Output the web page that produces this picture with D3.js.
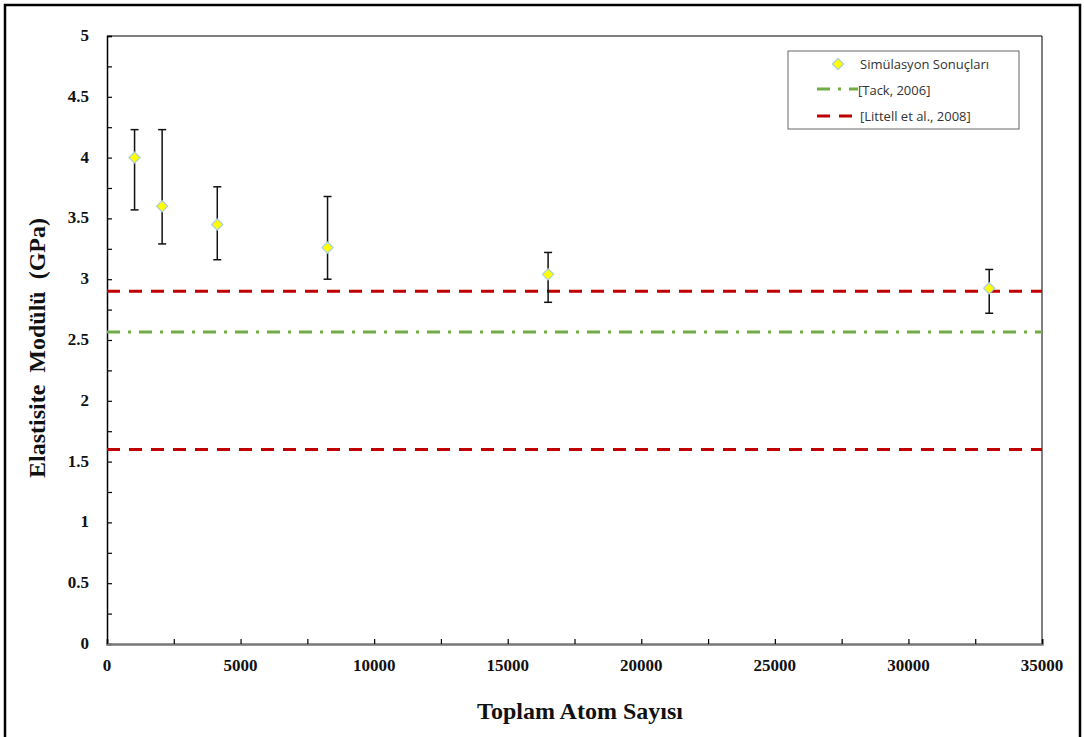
<!DOCTYPE html>
<html>
<head>
<meta charset="utf-8">
<script src="https://cdn.jsdelivr.net/npm/d3@7"></script>
<style>
body{margin:0;background:#fff}
</style>
</head>
<body>
<div id="chart"></div>
<script>
// data
var atomCounts=[1032,2064,4128,8256,16512,33024]
var modulus=[4.00,3.60,3.45,3.26,3.04,2.925]
var errLow=[3.57,3.29,3.16,3.00,2.81,2.72]
var errHigh=[4.23,4.23,3.76,3.68,3.22,3.08]
var tackValue=2.565
var littellValues=[1.60,2.90]
var legendLabels=["Simülasyon Sonuçları","[Tack, 2006]","[Littell et al., 2008]"]

var svgWidth=1084
var svgHeight=737
var margin={top:36,right:42,bottom:93,left:107}
var width=svgWidth-margin.left-margin.right
var height=svgHeight-margin.top-margin.bottom

var svg=d3.select("#chart").append("svg")
    .attr("width",svgWidth)
    .attr("height",svgHeight)

// outer frame
svg.append("rect")
    .attr("x",5).attr("y",5)
    .attr("width",1075).attr("height",745)
    .attr("fill","none").attr("stroke","#000").attr("stroke-width",2.5)

var g=svg.append("g").attr("transform",`translate(${margin.left},${margin.top})`)

var x=d3.scaleLinear().domain([0,35000]).range([0,width])
var y=d3.scaleLinear().domain([0,5]).range([height,0])

// plot box top/right
g.append("line").attr("x1",0).attr("x2",width).attr("y1",0).attr("y2",0)
    .attr("stroke","#000").attr("stroke-width",1)
g.append("line").attr("x1",width).attr("x2",width).attr("y1",0).attr("y2",height)
    .attr("stroke","#000").attr("stroke-width",1)

// minor ticks
var yMinor=d3.axisLeft(y).tickValues(d3.range(0,5.01,0.25)).tickSize(-5).tickFormat("")
var xMinor=d3.axisBottom(x).tickValues(d3.range(0,35001,2500)).tickSize(-5).tickFormat("")

var yAx=g.append("g").call(yMinor)
yAx.select(".domain").attr("stroke","#000").attr("stroke-width",1.5)
yAx.selectAll(".tick line").attr("stroke","#000").attr("stroke-width",1.2)

var xAx=g.append("g").attr("transform",`translate(0,${height})`).call(xMinor)
xAx.select(".domain").attr("stroke","#777").attr("stroke-width",2.5)
xAx.selectAll(".tick line").attr("stroke","#000").attr("stroke-width",1.2)

// tick labels
g.selectAll(".ylab").data(d3.range(0,5.01,0.5)).enter().append("text")
    .attr("class","ylab")
    .attr("x",-18).attr("y",d=>y(d)+5)
    .attr("text-anchor","end")
    .attr("font-family","Liberation Serif").attr("font-weight","bold").attr("font-size","17px")
    .attr("fill","#111")
    .text(d=>d3.format("")(+d.toFixed(1)))

g.selectAll(".xlab").data(d3.range(0,35001,5000)).enter().append("text")
    .attr("class","xlab")
    .attr("x",d=>x(d)).attr("y",height+27)
    .attr("text-anchor","middle")
    .attr("font-family","Liberation Serif").attr("font-weight","bold").attr("font-size","17px")
    .attr("fill","#111")
    .text(d=>d)

// reference lines
littellValues.forEach(v=>{
    g.append("line").attr("x1",0).attr("x2",width).attr("y1",y(v)).attr("y2",y(v))
        .attr("stroke","#c00000").attr("stroke-width",3).attr("stroke-dasharray","13,9")
})
g.append("line").attr("x1",0).attr("x2",width).attr("y1",y(tackValue)).attr("y2",y(tackValue))
    .attr("stroke","#70ad47").attr("stroke-width",3).attr("stroke-dasharray","13,8,3,8")

// error bars
var pts=atomCounts.map((a,i)=>({a:a,v:modulus[i],lo:errLow[i],hi:errHigh[i]}))
var eb=g.selectAll(".eb").data(pts).enter().append("g").attr("class","eb")
eb.append("line").attr("x1",d=>x(d.a)).attr("x2",d=>x(d.a))
    .attr("y1",d=>y(d.lo)).attr("y2",d=>y(d.hi))
    .attr("stroke","#111").attr("stroke-width",1.5)
eb.append("line").attr("x1",d=>x(d.a)-4).attr("x2",d=>x(d.a)+4)
    .attr("y1",d=>y(d.lo)).attr("y2",d=>y(d.lo))
    .attr("stroke","#111").attr("stroke-width",1.5)
eb.append("line").attr("x1",d=>x(d.a)-4).attr("x2",d=>x(d.a)+4)
    .attr("y1",d=>y(d.hi)).attr("y2",d=>y(d.hi))
    .attr("stroke","#111").attr("stroke-width",1.5)

var diamond=d3.symbol().type(d3.symbolDiamond2).size(80)
g.selectAll(".pt").data(pts).enter().append("path")
    .attr("class","pt")
    .attr("transform",d=>`translate(${x(d.a)},${y(d.v)})`)
    .attr("d",diamond)
    .attr("fill","#ffff00").attr("stroke","#a9cde0").attr("stroke-width",1.2)

// legend
var leg=svg.append("g").attr("transform","translate(788,51)")
leg.append("rect").attr("width",231).attr("height",78)
    .attr("fill","#fff").attr("stroke","#666").attr("stroke-width",1)
leg.append("path").attr("transform","translate(50,13)").attr("d",diamond)
    .attr("fill","#ffff00").attr("stroke","#a9cde0").attr("stroke-width",1.2)
leg.append("line").attr("x1",29).attr("x2",70).attr("y1",38).attr("y2",38)
    .attr("stroke","#70ad47").attr("stroke-width",3).attr("stroke-dasharray","13,8,3,8")
leg.append("line").attr("x1",29).attr("x2",70).attr("y1",65).attr("y2",65)
    .attr("stroke","#c00000").attr("stroke-width",3).attr("stroke-dasharray","13,9")
leg.selectAll(".lt").data(legendLabels).enter().append("text")
    .attr("class","lt")
    .attr("x",(d,i)=>i==0?72:(i==1?70:72))
    .attr("y",(d,i)=>18+i*26)
    .attr("font-family","Open Sans").attr("font-size","13px").attr("fill","#333")
    .text(d=>d)

// axis titles
svg.append("text")
    .attr("transform","translate(45,348) rotate(-90)")
    .attr("text-anchor","middle")
    .attr("font-family","Liberation Serif").attr("font-weight","bold").attr("font-size","24px")
    .attr("word-spacing","6px")
    .attr("fill","#111")
    .text("Elastisite Modülü (GPa)")
svg.append("text")
    .attr("x",580).attr("y",719)
    .attr("text-anchor","middle")
    .attr("font-family","Liberation Serif").attr("font-weight","bold").attr("font-size","24px")
    .attr("fill","#111")
    .text("Toplam Atom Sayısı")
</script>
</body>
</html>
